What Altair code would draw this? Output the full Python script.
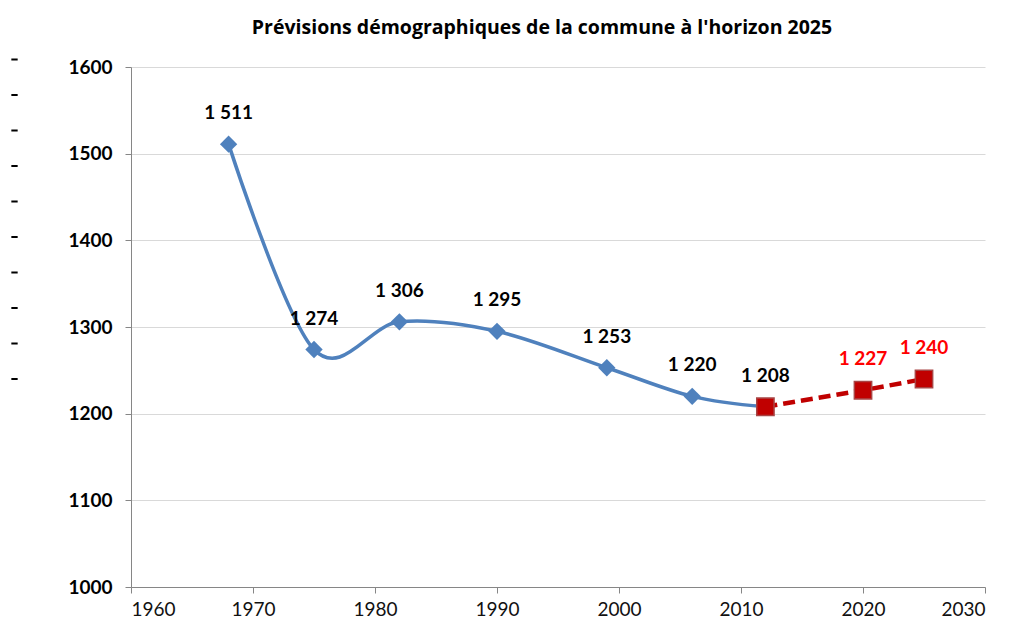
import altair as alt
import pandas as pd

# Data
hist_years = [1968, 1975, 1982, 1990, 1999, 2006, 2012]
hist_pop = [1511, 1274, 1306, 1295, 1253, 1220, 1208]
proj_years = [2012, 2020, 2025]
proj_pop = [1208, 1227, 1240]
legend_keys = ["a", "b", "c", "d", "e", "f", "g", "h", "i", "j"]

hist = pd.DataFrame({"year": hist_years, "pop": hist_pop})
proj = pd.DataFrame({"year": proj_years, "pop": proj_pop})
leg = pd.DataFrame({"k": legend_keys, "year": [2000] * 10, "pop": [1300] * 10})

FONT = "Lato"
label_expr = "replace(format(datum.pop, ','), ',', ' ')"

x = alt.X("year:Q", scale=alt.Scale(domain=[1960, 2030], nice=False),
          axis=alt.Axis(values=list(range(1960, 2031, 10)), format="d", title=None, grid=False,
                        labelFont=FONT, labelFontSize=19, labelColor="#111111",
                        labelPadding=7, tickSize=6, domainColor="#868686", tickColor="#868686"))
y = alt.Y("pop:Q", scale=alt.Scale(domain=[1000, 1600], nice=False, zero=False),
          axis=alt.Axis(values=list(range(1000, 1601, 100)), format="d", title=None, grid=True,
                        gridColor="#D9D9D9",
                        labelFont=FONT, labelFontSize=19, labelFontWeight="bold", labelColor="#000000",
                        labelPadding=13, tickSize=6, domainColor="#868686", tickColor="#868686"))

base_h = alt.Chart(hist).encode(x=x, y=y)
base_p = alt.Chart(proj).encode(x=x, y=y)

blue_line = base_h.mark_line(color="#4F81BD", strokeWidth=3.5, interpolate="cardinal")
blue_pts = base_h.mark_point(shape="diamond", filled=True, size=300, color="#4F81BD", opacity=1)
blue_lbl = base_h.transform_calculate(label=label_expr).mark_text(
    font=FONT, fontSize=19, fontWeight="bold", color="#000000", dy=-31, baseline="middle"
).encode(text="label:N")

red_line = base_p.mark_line(color="#C00000", strokeWidth=4.5, strokeDash=[12, 6])
red_pts = base_p.mark_point(shape="square", filled=True, size=300, color="#C00000",
                            stroke="#A84444", strokeWidth=1.5, opacity=1)
red_lbl = base_p.transform_filter("datum.year > 2012").transform_calculate(label=label_expr).mark_text(
    font=FONT, fontSize=19, fontWeight="bold", color="#FF0000", dy=-31, baseline="middle"
).encode(text="label:N")

dashes = alt.Chart(leg).mark_point(opacity=0).encode(
    x=x, y=y,
    color=alt.Color("k:N", scale=alt.Scale(domain=legend_keys, range=["#000000"] * 10),
                    legend=alt.Legend(orient="none", legendX=-121, legendY=-12, title=None,
                                      symbolType="stroke", symbolSize=40, symbolStrokeWidth=2,
                                      symbolStrokeColor="#000000", labelExpr="''",
                                      labelFontSize=6, rowPadding=26.5, symbolOffset=0, padding=0)),
)

chart = alt.layer(dashes, blue_line, red_line, blue_pts, red_pts, blue_lbl, red_lbl).properties(
    width=854, height=520,
    title=alt.TitleParams("Prévisions démographiques de la commune à l'horizon 2025",
                          font="Open Sans", fontSize=19.5, fontWeight="bold", color="#000000",
                          anchor="middle", dx=-16, offset=17),
    autosize=alt.AutoSizeParams(type="none"),
    padding={"left": 123, "top": 59, "right": 18, "bottom": 36},
).configure_view(stroke=None)

chart.save("out.html", embed_options={"renderer": "svg", "actions": False})
